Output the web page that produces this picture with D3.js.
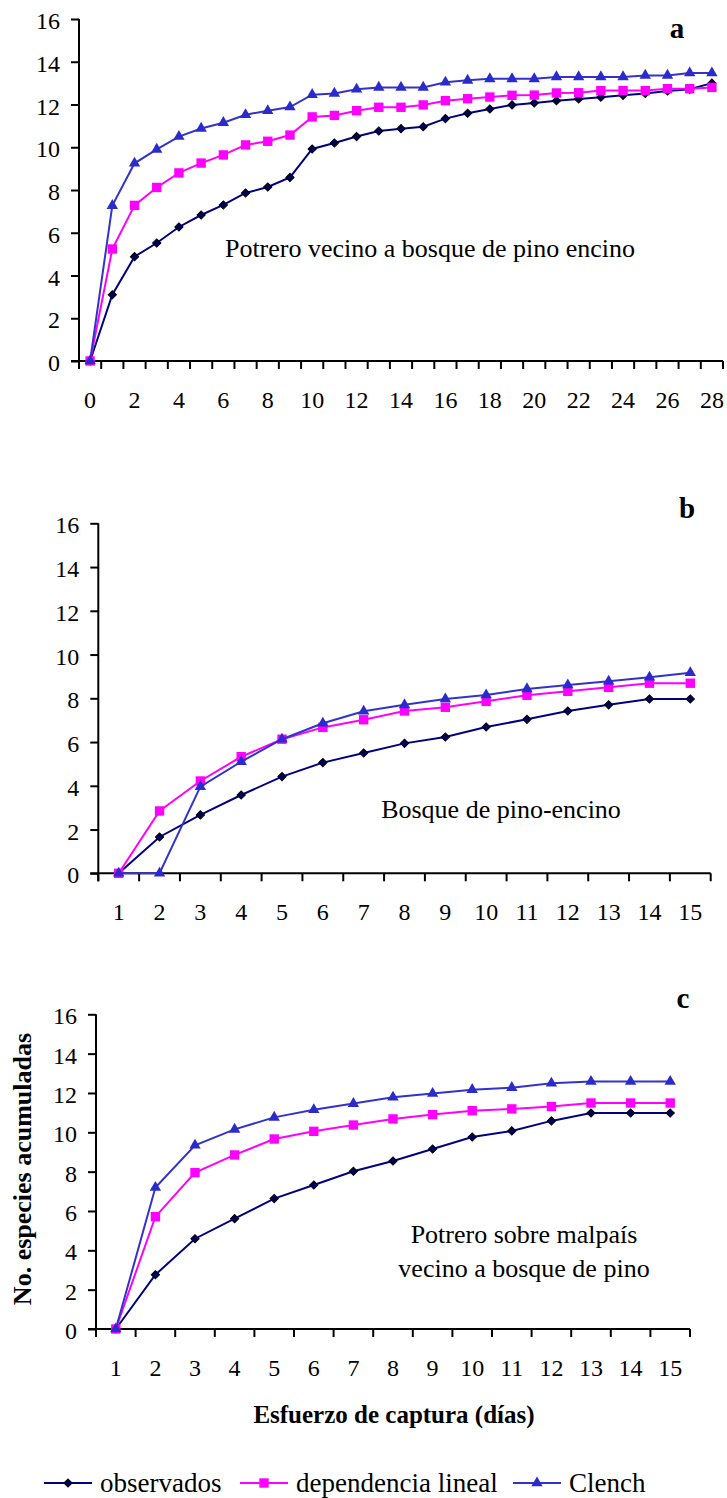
<!DOCTYPE html>
<html>
<head>
<meta charset="utf-8">
<script src="https://cdn.jsdelivr.net/npm/d3@7"></script>
<style>
  body { margin: 0; background: #fff; }
  svg text { font-family: "Liberation Serif", "Times New Roman", serif; fill: #000; }
</style>
</head>
<body>
<svg id="chart" width="727" height="1498"></svg>
<script>
// categories (capture days)
var diasA = [0,1,2,3,4,5,6,7,8,9,10,11,12,13,14,15,16,17,18,19,20,21,22,23,24,25,26,27,28];
var diasBC = [1,2,3,4,5,6,7,8,9,10,11,12,13,14,15];
var yTicks = [0,2,4,6,8,10,12,14,16];

// a: Potrero vecino a bosque de pino encino
var obsA = [0,3.1,4.88,5.52,6.27,6.83,7.3,7.86,8.14,8.59,9.92,10.2,10.5,10.76,10.87,10.96,11.34,11.59,11.79,11.98,12.07,12.18,12.26,12.34,12.43,12.52,12.63,12.71,13.0];
var linA = [0,5.24,7.28,8.12,8.8,9.26,9.64,10.11,10.28,10.57,11.42,11.49,11.71,11.87,11.87,11.98,12.18,12.27,12.35,12.43,12.44,12.54,12.55,12.65,12.65,12.65,12.74,12.74,12.8];
var clA  = [0,7.27,9.25,9.9,10.5,10.88,11.15,11.52,11.71,11.88,12.46,12.52,12.71,12.8,12.8,12.8,13.04,13.13,13.2,13.2,13.2,13.29,13.29,13.29,13.29,13.36,13.36,13.47,13.47];

// b: Bosque de pino-encino
var obsB = [0,1.66,2.67,3.58,4.42,5.06,5.5,5.94,6.23,6.69,7.04,7.42,7.7,7.97,7.97];
var linB = [0,2.85,4.22,5.33,6.13,6.67,7.02,7.42,7.59,7.86,8.14,8.32,8.5,8.69,8.69];
var clB  = [0,0,3.96,5.1,6.13,6.86,7.41,7.7,7.97,8.15,8.43,8.61,8.78,8.96,9.17];

// c: Potrero sobre malpais
var obsC = [0,2.76,4.59,5.61,6.63,7.32,8.02,8.54,9.15,9.76,10.07,10.58,10.98,10.98,10.98];
var linC = [0,5.71,7.95,8.85,9.66,10.05,10.37,10.68,10.9,11.1,11.19,11.31,11.49,11.49,11.49];
var clC  = [0,7.19,9.34,10.15,10.76,11.15,11.46,11.78,11.97,12.17,12.27,12.49,12.58,12.58,12.58];

var seriesNames = ["observados", "dependencia lineal", "Clench"];

var styles = [
    { line: "#000080", fill: "#00005a", stroke: "#000000", sym: "diamond" },
    { line: "#ff00ff", fill: "#ff00ff", stroke: "#ff00ff", sym: "square" },
    { line: "#3333cc", fill: "#2b2bcc", stroke: "#2b2bcc", sym: "triangle" }
];

var svg = d3.select("#chart");

function marker(g, sym, cx, cy, st) {
    if (sym == "diamond") {
        g.append("path")
            .attr("d", d3.symbol().type(d3.symbolSquare).size(34)())
            .attr("transform", "translate(" + cx + "," + cy + ") rotate(45)")
            .attr("fill", st.fill).attr("stroke", st.stroke).attr("stroke-width", 1);
    } else if (sym == "square") {
        g.append("path")
            .attr("d", d3.symbol().type(d3.symbolSquare).size(88)())
            .attr("transform", "translate(" + cx + "," + cy + ")")
            .attr("fill", st.fill);
    } else {
        g.append("path")
            .attr("d", d3.symbol().type(d3.symbolTriangle).size(56)())
            .attr("transform", "translate(" + cx + "," + cy + ")")
            .attr("fill", st.fill);
    }
}

function panel(p) {
    var g = svg.append("g");
    var x = d3.scaleBand().domain(p.cats).range([p.left, p.right]);
    var y = d3.scaleLinear().domain([0, 16]).range([p.bottom, p.top]);

    // y axis
    var ya = g.append("g").attr("transform", "translate(" + p.left + ",0)")
        .call(d3.axisLeft(y).tickValues(yTicks).tickSize(8).tickPadding(11).tickSizeOuter(0));
    ya.select(".domain").remove();
    ya.selectAll("line").attr("stroke", "#000").attr("stroke-width", 2);
    ya.selectAll("text").attr("font-size", 24).attr("dy", "0.4em")
        .attr("font-family", "Liberation Serif");

    // x axis labels (centred on categories)
    var xa = g.append("g").attr("transform", "translate(0," + p.bottom + ")")
        .call(d3.axisBottom(x).tickSize(0).tickPadding(0)
            .tickFormat(function(d, i) { return (p.every && i % 2) ? "" : d; }));
    xa.select(".domain").remove();
    xa.selectAll("text").attr("font-size", 24).attr("y", 47).attr("dy", 0)
        .attr("font-family", "Liberation Serif");

    // x boundary ticks
    var bounds = p.cats.map(function(c) { return x(c); }).concat([p.right]);
    g.selectAll(".bt").data(bounds).enter().append("line")
        .attr("x1", function(d) { return d; }).attr("x2", function(d) { return d; })
        .attr("y1", p.bottom).attr("y2", p.bottom + 8)
        .attr("stroke", "#000").attr("stroke-width", 2);

    // axis lines
    g.append("line").attr("x1", p.left - 8).attr("x2", p.right)
        .attr("y1", p.bottom).attr("y2", p.bottom)
        .attr("stroke", "#000").attr("stroke-width", 2);
    g.append("line").attr("x1", p.left).attr("x2", p.left)
        .attr("y1", p.top).attr("y2", p.bottom + 8)
        .attr("stroke", "#000").attr("stroke-width", 2);

    var line = d3.line()
        .x(function(d, i) { return x(p.cats[i]) + x.bandwidth() / 2; })
        .y(function(d) { return y(d); });

    p.series.forEach(function(vals, k) {
        var st = styles[k];
        g.append("path").datum(vals)
            .attr("d", line).attr("fill", "none")
            .attr("stroke", st.line).attr("stroke-width", 2);
        vals.forEach(function(v, i) {
            marker(g, st.sym, x(p.cats[i]) + x.bandwidth() / 2, y(v), st);
        });
    });

    // panel letter
    g.append("text").attr("x", p.letterX).attr("y", p.letterY)
        .attr("text-anchor", "middle").attr("font-size", 29).attr("font-weight", "bold")
        .text(p.letter);

    // site label
    p.note.forEach(function(t, i) {
        g.append("text").attr("x", p.noteX).attr("y", p.noteY + i * 34)
            .attr("text-anchor", "middle").attr("font-size", 26)
            .text(t);
    });
}

panel({ cats: diasA, every: true, left: 79, right: 723, top: 19, bottom: 361,
    series: [obsA, linA, clA], letter: "a", letterX: 677, letterY: 38,
    note: ["Potrero vecino a bosque de pino encino"], noteX: 430, noteY: 257 });

panel({ cats: diasBC, left: 98.3, right: 710.7, top: 523.3, bottom: 873.3,
    series: [obsB, linB, clB], letter: "b", letterX: 687, letterY: 518,
    note: ["Bosque de pino-encino"], noteX: 501, noteY: 818 });

panel({ cats: diasBC, left: 96, right: 690, top: 1014.3, bottom: 1329,
    series: [obsC, linC, clC], letter: "c", letterX: 683, letterY: 1008,
    note: ["Potrero sobre malpaís", "vecino a bosque de pino"], noteX: 524, noteY: 1243 });

// axis titles
svg.append("text").attr("x", 394).attr("y", 1423)
    .attr("text-anchor", "middle").attr("font-size", 25).attr("font-weight", "bold")
    .text("Esfuerzo de captura (días)");
svg.append("text").attr("transform", "translate(31,1169) rotate(-90)")
    .attr("text-anchor", "middle").attr("font-size", 26).attr("font-weight", "bold")
    .text("No. especies acumuladas");

// legend
var legX = [44, 240, 513];
var leg = svg.append("g");
seriesNames.forEach(function(name, k) {
    var st = styles[k];
    leg.append("line").attr("x1", legX[k]).attr("x2", legX[k] + 48)
        .attr("y1", 1483).attr("y2", 1483)
        .attr("stroke", st.line).attr("stroke-width", 2);
    marker(leg, st.sym, legX[k] + 24, 1483, st);
    leg.append("text").attr("x", legX[k] + 56).attr("y", 1492)
        .attr("font-size", 27).text(name);
});
</script>
</body>
</html>
